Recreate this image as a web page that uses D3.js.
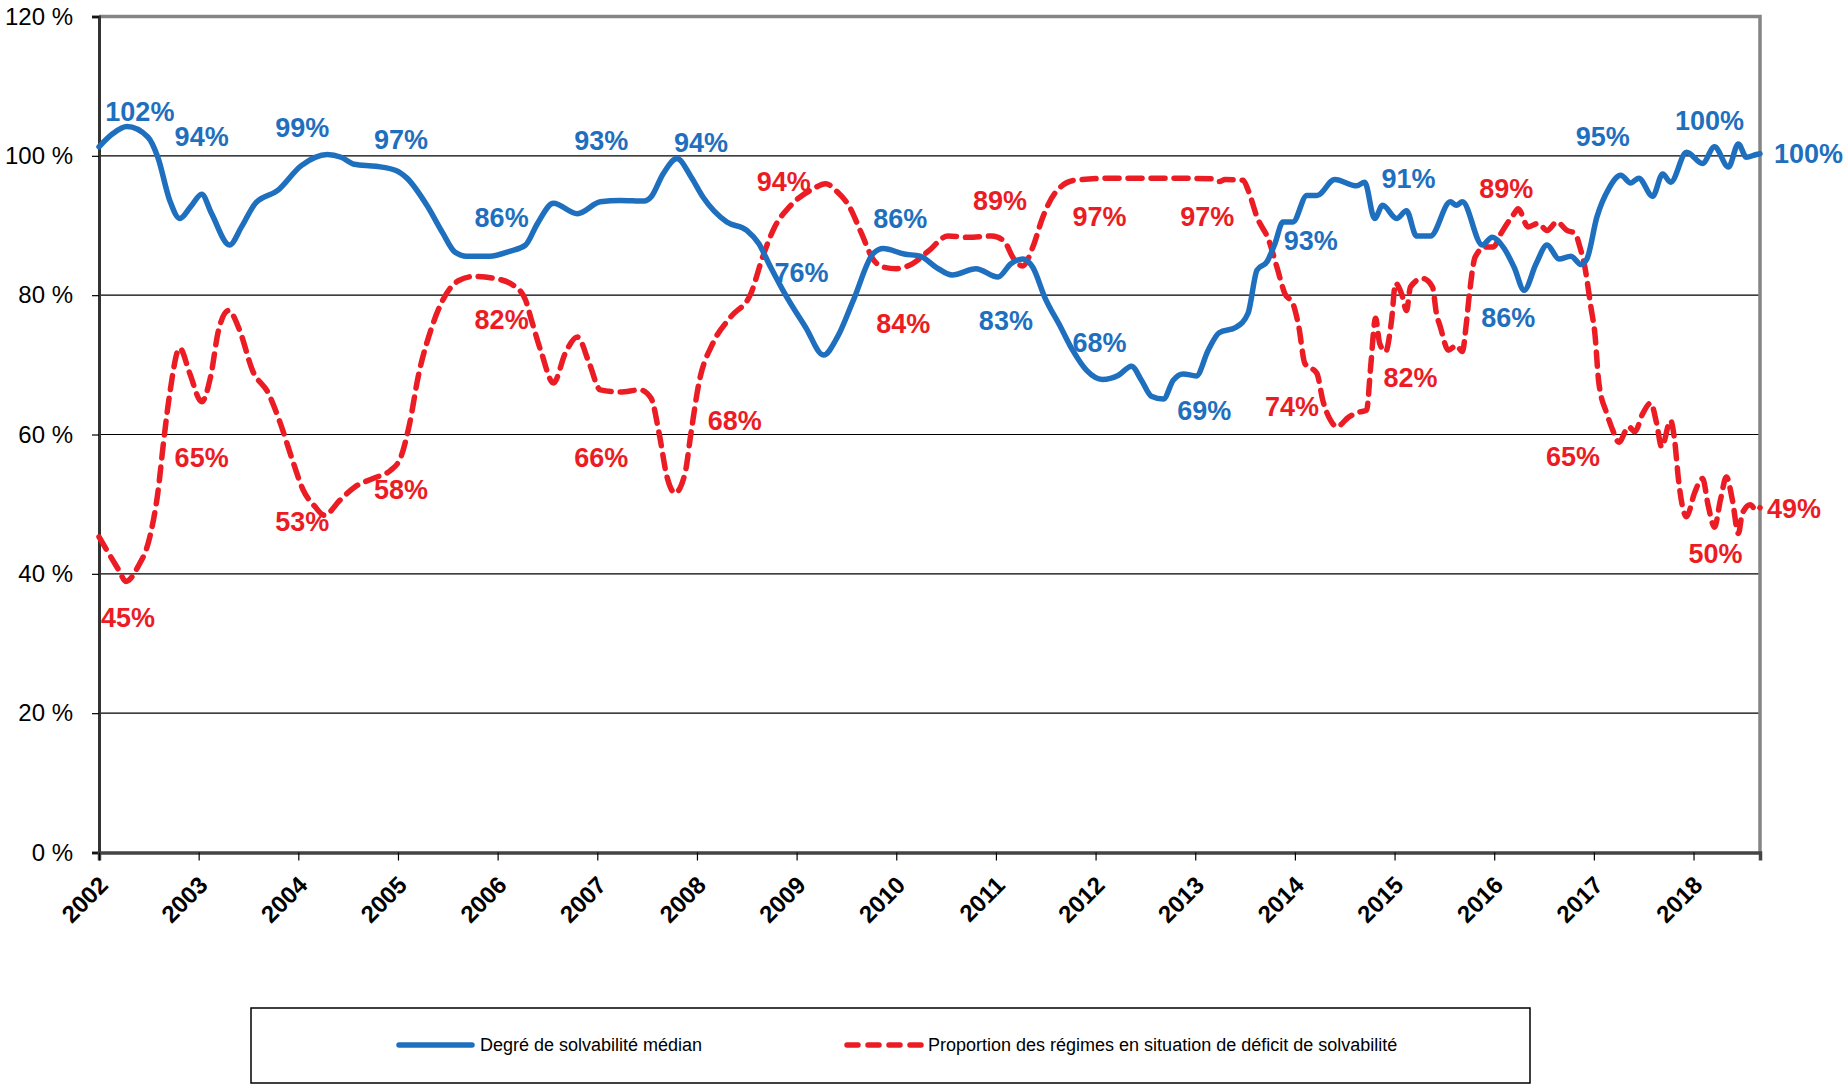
<!DOCTYPE html>
<html>
<head>
<meta charset="utf-8">
<script src="https://cdn.jsdelivr.net/npm/d3@7"></script>
<style>
  html, body { margin: 0; padding: 0; background: #fff; }
  svg { display: block; font-family: Arial, "Liberation Sans", sans-serif; }
</style>
</head>
<body>
<svg id="chart" width="1847" height="1088"></svg>
<script>
// ---------- DATA ----------
const yearTicks = [2002,2003,2004,2005,2006,2007,2008,2009,2010,2011,2012,2013,2014,2015,2016,2017,2018];
const yTicks = [0,20,40,60,80,100,120];
const yTickLabels = ["0 %","20 %","40 %","60 %","80 %","100 %","120 %"];

const seriesNames = ["Degré de solvabilité médian", "Proportion des régimes en situation de déficit de solvabilité"];

// Degré de solvabilité médian (decimal year, %)
const blueX = [2002.00,2002.14,2002.28,2002.49,2002.59,2002.71,2002.81,2002.92,2003.03,2003.13,2003.31,2003.43,2003.57,2003.79,2004.03,2004.29,2004.43,2004.56,2004.78,2004.98,2005.09,2005.29,2005.45,2005.57,2005.69,2005.92,2006.12,2006.28,2006.40,2006.56,2006.80,2007.03,2007.23,2007.47,2007.54,2007.66,2007.80,2007.94,2008.06,2008.30,2008.50,2008.62,2008.74,2008.89,2009.09,2009.27,2009.41,2009.57,2009.77,2009.87,2010.08,2010.24,2010.40,2010.56,2010.80,2011.02,2011.15,2011.27,2011.37,2011.49,2011.65,2011.77,2011.91,2012.07,2012.23,2012.36,2012.46,2012.56,2012.68,2012.78,2012.88,2013.01,2013.13,2013.24,2013.41,2013.53,2013.62,2013.72,2013.80,2013.88,2013.98,2014.12,2014.22,2014.40,2014.62,2014.70,2014.80,2014.88,2015.02,2015.12,2015.22,2015.36,2015.56,2015.62,2015.68,2015.88,2015.98,2016.10,2016.20,2016.30,2016.42,2016.53,2016.65,2016.77,2016.87,2016.93,2017.03,2017.15,2017.27,2017.37,2017.45,2017.59,2017.69,2017.77,2017.93,2018.09,2018.21,2018.35,2018.45,2018.53,2018.63,2018.667];
const blueY = [101.3,103.2,104.2,102.7,99.8,93.6,91.0,92.7,94.5,91.7,87.2,89.8,93.2,95.0,98.6,100.2,99.8,98.8,98.5,97.9,96.8,92.9,88.9,86.2,85.6,85.6,86.3,87.2,90.3,93.2,91.7,93.4,93.6,93.5,94.1,97.4,99.6,97.0,94.1,90.5,89.3,87.4,84.0,80.0,75.4,71.4,74.0,79.3,86.0,86.7,85.9,85.6,84.0,82.9,83.8,82.6,84.5,85.2,84.0,79.7,75.4,72.1,69.2,67.9,68.5,69.8,67.8,65.5,65.1,67.8,68.7,68.4,72.1,74.6,75.4,77.4,83.6,84.8,87.4,90.5,90.5,94.3,94.3,96.6,95.7,96.2,91.0,92.9,91.0,92.1,88.5,88.5,93.4,92.9,93.4,87.2,88.3,86.7,84.0,80.7,84.5,87.2,85.2,85.6,84.4,85.2,91.2,95.3,97.2,96.1,96.8,94.2,97.4,96.2,100.5,98.9,101.3,98.4,101.7,99.8,100.2,100.3];

// Proportion des régimes en situation de déficit de solvabilité (decimal year, %)
const redX = [2002.00,2002.20,2002.27,2002.39,2002.51,2002.59,2002.65,2002.71,2002.81,2002.91,2003.03,2003.12,2003.20,2003.30,2003.41,2003.54,2003.70,2003.82,2003.93,2004.05,2004.17,2004.26,2004.42,2004.57,2004.75,2004.93,2005.03,2005.11,2005.21,2005.33,2005.45,2005.61,2005.77,2005.97,2006.16,2006.28,2006.34,2006.44,2006.56,2006.68,2006.80,2006.92,2007.03,2007.23,2007.43,2007.54,2007.62,2007.70,2007.78,2007.88,2007.94,2008.02,2008.16,2008.34,2008.54,2008.66,2008.78,2008.93,2009.17,2009.29,2009.41,2009.53,2009.65,2009.77,2009.88,2010.00,2010.16,2010.32,2010.52,2010.72,2010.96,2011.08,2011.18,2011.27,2011.37,2011.47,2011.59,2011.79,2012.19,2012.70,2013.18,2013.24,2013.30,2013.48,2013.53,2013.62,2013.74,2013.82,2013.90,2013.98,2014.04,2014.10,2014.22,2014.28,2014.36,2014.42,2014.54,2014.64,2014.72,2014.76,2014.81,2014.85,2014.91,2014.97,2015.01,2015.07,2015.12,2015.16,2015.28,2015.38,2015.42,2015.46,2015.54,2015.62,2015.68,2015.72,2015.75,2015.81,2015.91,2015.99,2016.07,2016.20,2016.24,2016.34,2016.44,2016.53,2016.63,2016.73,2016.81,2016.86,2016.91,2016.97,2017.01,2017.05,2017.13,2017.19,2017.25,2017.35,2017.41,2017.49,2017.57,2017.63,2017.68,2017.77,2017.81,2017.85,2017.89,2017.93,2018.01,2018.09,2018.15,2018.21,2018.27,2018.33,2018.39,2018.45,2018.49,2018.57,2018.63,2018.667];
const redY = [45.3,40.5,38.9,41.0,45.3,51.6,59.2,65.9,72.4,68.8,64.7,68.3,75.0,77.8,75.0,69.2,65.9,61.6,56.8,52.0,49.6,48.4,50.6,52.5,53.7,54.9,56.8,61.1,68.8,75.0,79.3,82.1,82.7,82.4,81.4,79.3,76.4,71.7,67.4,71.7,74.0,70.2,66.4,66.1,66.4,65.2,60.2,53.9,51.6,54.4,60.2,67.4,73.1,76.9,80.2,85.5,89.8,92.7,95.3,96.0,94.8,92.7,88.9,85.1,84.0,83.8,84.5,86.3,88.5,88.3,88.5,87.8,85.2,84.2,86.9,91.2,94.6,96.5,96.8,96.8,96.7,96.3,96.6,96.5,95.1,91.2,87.8,84.0,80.2,78.8,75.4,70.2,68.8,64.9,62.0,61.1,62.5,63.2,63.5,69.7,76.7,73.1,71.9,76.4,81.7,80.2,77.8,81.2,82.4,81.2,77.4,75.4,72.1,72.8,71.9,75.9,80.0,85.5,86.9,86.9,88.9,91.7,92.4,89.8,90.3,89.3,90.5,89.3,88.9,86.9,84.0,78.3,74.5,67.4,63.0,60.6,58.9,61.1,60.4,63.0,64.5,61.6,58.2,62.0,59.2,53.4,49.6,48.2,51.6,53.7,49.6,46.7,50.6,53.9,50.6,45.8,48.7,49.9,49.1,49.5];

// Data labels: text, anchor year, anchor value (baseline)
const blueLabelText = ["102%","94%","99%","97%","86%","93%","94%","76%","86%","83%","68%","69%","93%","91%","86%","95%","100%"];
const blueLabelX    = [2002.41,2003.03,2004.04,2005.03,2006.04,2007.04,2008.04,2009.05,2010.04,2011.10,2012.04,2013.09,2014.16,2015.14,2016.14,2017.09,2018.16];
const blueLabelY    = [105.0,101.4,102.7,101.0,89.8,100.8,100.5,81.9,89.6,75.0,71.9,62.1,86.5,95.4,75.5,101.4,103.7];
const redLabelText = ["45%","65%","53%","58%","82%","66%","68%","94%","84%","89%","97%","97%","74%","82%","89%","65%","50%"];
const redLabelX    = [2002.29,2003.03,2004.04,2005.03,2006.04,2007.04,2008.38,2008.87,2010.07,2011.04,2012.04,2013.12,2013.97,2015.16,2016.12,2016.79,2018.22];
const redLabelY    = [32.4,55.4,46.1,50.8,75.2,55.4,60.7,95.0,74.6,92.2,90.0,90.0,62.6,66.8,93.9,55.5,41.5];
// end-of-series labels (drawn to the right of the plot)
const blueEndLabel = "100%";
const redEndLabel = "49%";

// ---------- LAYOUT ----------
const BLUE = "#1F6FBF", RED = "#EC1C24";
const svg = d3.select("#chart");
const PL = 99, PR = 1760, PT = 16.5, PB = 852.5;

const x = d3.scaleLinear().domain([2002, 2018.667]).range([PL, PR]);
const y = d3.scaleLinear().domain([0, 120]).range([PB, PT]);

svg.append("rect").attr("width", 1847).attr("height", 1088).attr("fill", "#fff");

// gridlines
svg.append("g").selectAll("line").data(yTicks.filter(v => v > 0 && v < 120)).join("line")
  .attr("x1", PL).attr("x2", PR)
  .attr("y1", d => y(d)).attr("y2", d => y(d))
  .attr("stroke", "#000").attr("stroke-width", 1.2);

// frame (grey top/right)
svg.append("path")
  .attr("d", `M${PL},${PT}H${PR}V${PB}`)
  .attr("fill", "none").attr("stroke", "#858585").attr("stroke-width", 3.5);

// Y axis
const yAxis = d3.axisLeft(y).tickValues(yTicks).tickSize(7).tickPadding(19)
  .tickFormat((d, i) => yTickLabels[i]);
const gy = svg.append("g").attr("transform", `translate(${PL},0)`).call(yAxis);
gy.select(".domain").attr("stroke", "#333").attr("stroke-width", 3);
gy.selectAll(".tick line").attr("stroke", "#000").attr("stroke-width", 1.2);
gy.selectAll(".tick text").attr("font-size", 24).attr("fill", "#000")
  .attr("font-family", "Arial, 'Liberation Sans', sans-serif");

// X axis
const xAxis = d3.axisBottom(x).tickValues(yearTicks).tickSize(8).tickFormat(d3.format("d"));
const gx = svg.append("g").attr("transform", `translate(0,${PB})`).call(xAxis);
gx.select(".domain").attr("stroke", "#444").attr("stroke-width", 3.5);
gx.selectAll(".tick line").attr("stroke", "#000").attr("stroke-width", 1.2);
gx.selectAll(".tick text")
  .attr("font-size", 24).attr("font-weight", "bold").attr("fill", "#000")
  .attr("font-family", "Arial, 'Liberation Sans', sans-serif")
  .attr("text-anchor", "end")
  .attr("x", 10).attr("y", 34).attr("dy", 0)
  .attr("transform", "rotate(-45, 10, 34)");

// lines
const blueData = blueX.map((v, i) => [v, blueY[i]]);
const redData = redX.map((v, i) => [v, redY[i]]);
const line = d3.line().x(d => x(d[0])).y(d => y(d[1])).curve(d3.curveMonotoneX);

svg.append("path").datum(redData).attr("d", line)
  .attr("fill", "none").attr("stroke", RED).attr("stroke-width", 5.5)
  .attr("stroke-dasharray", "14,9").attr("stroke-linecap", "round").attr("stroke-linejoin", "round");
svg.append("path").datum(blueData).attr("d", line)
  .attr("fill", "none").attr("stroke", BLUE).attr("stroke-width", 5.5)
  .attr("stroke-linecap", "round").attr("stroke-linejoin", "round");

// data labels
const lblFont = "Arial, 'Liberation Sans', sans-serif";
function labels(texts, xs, ys, color) {
  svg.append("g").selectAll("text").data(texts).join("text")
    .attr("x", (d, i) => x(xs[i])).attr("y", (d, i) => y(ys[i]))
    .attr("text-anchor", "middle").attr("font-size", 27).attr("font-weight", "bold")
    .attr("font-family", lblFont).attr("fill", color).text(d => d);
}
labels(redLabelText, redLabelX, redLabelY, RED);
labels(blueLabelText, blueLabelX, blueLabelY, BLUE);

// end labels
const lastB = blueData[blueData.length - 1], lastR = redData[redData.length - 1];
svg.append("text").attr("x", x(lastB[0]) + 14).attr("y", y(lastB[1]) + 9)
  .attr("font-size", 27).attr("font-weight", "bold").attr("font-family", lblFont)
  .attr("fill", BLUE).text(blueEndLabel);
svg.append("text").attr("x", x(lastR[0]) + 7).attr("y", y(lastR[1]) + 10)
  .attr("font-size", 27).attr("font-weight", "bold").attr("font-family", lblFont)
  .attr("fill", RED).text(redEndLabel);

// legend
const lg = svg.append("g");
lg.append("rect").attr("x", 251).attr("y", 1008).attr("width", 1279).attr("height", 75)
  .attr("fill", "#fff").attr("stroke", "#000").attr("stroke-width", 1.5);
lg.append("line").attr("x1", 399).attr("x2", 472).attr("y1", 1045).attr("y2", 1045)
  .attr("stroke", BLUE).attr("stroke-width", 5.5).attr("stroke-linecap", "round");
lg.append("text").attr("x", 480).attr("y", 1051).attr("font-size", 18)
  .attr("font-family", lblFont).attr("fill", "#000").text(seriesNames[0]);
lg.append("line").attr("x1", 847).attr("x2", 921).attr("y1", 1045).attr("y2", 1045)
  .attr("stroke", RED).attr("stroke-width", 5.5).attr("stroke-linecap", "round")
  .attr("stroke-dasharray", "11,10");
lg.append("text").attr("x", 928).attr("y", 1051).attr("font-size", 18)
  .attr("font-family", lblFont).attr("fill", "#000").text(seriesNames[1]);
</script>
</body>
</html>
